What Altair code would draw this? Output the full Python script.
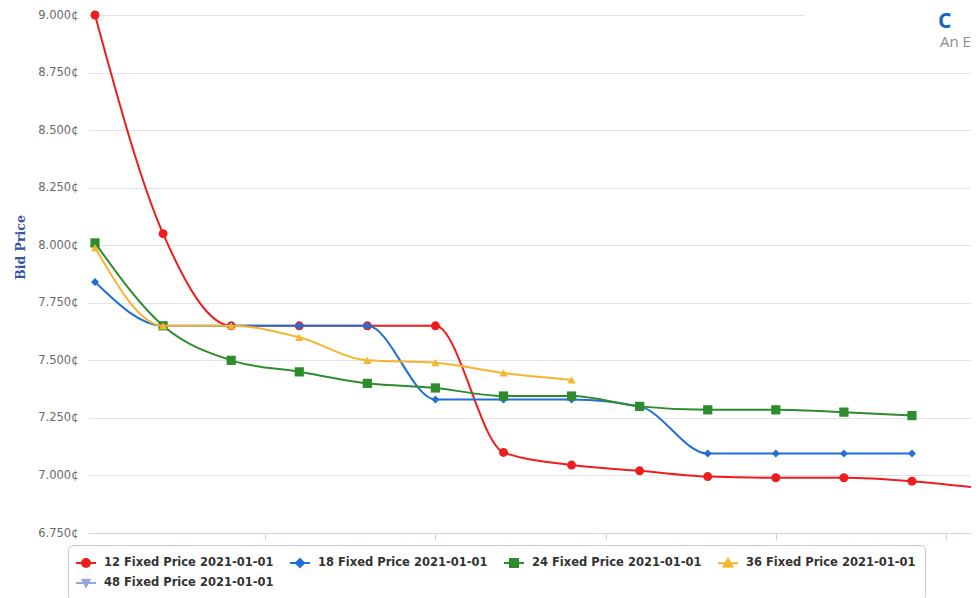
import altair as alt
import pandas as pd

# ---- data ----
series_names = [
    "12 Fixed Price 2021-01-01",
    "18 Fixed Price 2021-01-01",
    "24 Fixed Price 2021-01-01",
    "36 Fixed Price 2021-01-01",
    "48 Fixed Price 2021-01-01",
]
price_12 = [9.00, 8.05, 7.65, 7.65, 7.65, 7.65, 7.10, 7.045, 7.02, 6.995, 6.99, 6.99, 6.975, 6.945]
price_18 = [7.84, 7.65, 7.65, 7.65, 7.65, 7.33, 7.33, 7.33, 7.30, 7.095, 7.095, 7.095, 7.095]
price_24 = [8.01, 7.65, 7.50, 7.45, 7.40, 7.38, 7.345, 7.345, 7.30, 7.285, 7.285, 7.275, 7.26]
price_36 = [7.99, 7.65, 7.65, 7.60, 7.50, 7.49, 7.445, 7.415]
price_48 = []

series_values = [price_12, price_18, price_24, price_36, price_48]
colors = ["#ee1c1c", "#2170d8", "#2e8b2e", "#f5b530", "#93a9e0"]
marker_shapes = ["circle", "diamond", "square", "triangle-up", "triangle-down"]
marker_sizes = [80, 64, 85, 70, 50]
legend_paths = [
    "M-1.25,0H1.25M0.5,0A0.5,0.5,0,1,1,-0.5,0A0.5,0.5,0,1,1,0.5,0Z",
    "M-1.25,0H1.25M0,-0.5L0.5,0L0,0.5L-0.5,0Z",
    "M-1.25,0H1.25M-0.5,-0.5H0.5V0.5H-0.5Z",
    "M-1.25,0H1.25M0,-0.55L0.55,0.45L-0.55,0.45Z",
    "M-1.25,0H1.25M-0.45,-0.4H0.45L0,0.45Z",
]
y_ticks = [6.75, 7.0, 7.25, 7.5, 7.75, 8.0, 8.25, 8.5, 8.75, 9.0]
x_ticks = [2.5, 5.0, 7.5, 10.0, 12.5]
x_domain = [-0.103, 12.867]
logo_texts = ["C", "An E"]

rows = []
for name, vals in zip(series_names, series_values):
    for i, v in enumerate(vals):
        rows.append({"idx": i, "price": v, "series": name})
df = pd.DataFrame(rows)

x_enc = alt.X(
    "idx:Q",
    scale=alt.Scale(domain=x_domain, nice=False, zero=False),
    axis=alt.Axis(
        values=x_ticks, labels=False, grid=False, title=None,
        domainColor="#c6d4ee", tickColor="#c6d4ee", tickSize=7,
    ),
)
y_enc = alt.Y(
    "price:Q",
    scale=alt.Scale(domain=[6.75, 9.0], nice=False, zero=False),
    axis=alt.Axis(
        values=y_ticks, grid=True, gridColor="#dfe3eb", domain=False, ticks=False,
        labelExpr="format(datum.value, '.3f') + '¢'",
        labelFont="DejaVu Sans", labelFontSize=11.5, labelColor="#6a6a6a", labelPadding=10,
        title="Bid Price", titleFont="DejaVu Serif", titleFontWeight="bold",
        titleFontSize=12.5, titleColor="#3654a5", titleX=-68, titleY=232,
        titleAngle=-90, titleAlign="center", titleBaseline="middle",
    ),
)

layers = []
for name, col, shp, sz in zip(series_names, colors, marker_shapes, marker_sizes):
    base = alt.Chart(df).transform_filter(alt.datum.series == name)
    line = base.mark_line(interpolate="monotone", strokeWidth=2, color=col).encode(
        x=x_enc, y=y_enc
    )
    pts = base.mark_point(shape=shp, filled=True, size=sz, opacity=1, color=col).encode(
        x=x_enc, y=y_enc
    )
    layers += [line, pts]

leg = alt.Legend(
    title=None, orient="none", legendX=-20, legendY=530, columns=4, direction="horizontal",
    gridAlign="each",
    labelFont="DejaVu Sans", labelFontSize=11.5, labelFontWeight="bold", labelColor="#333333",
    labelLimit=400, labelOffset=9, columnPadding=12, rowPadding=3, padding=9,
    symbolSize=256, symbolStrokeWidth=2, strokeColor="#c3c7cf", cornerRadius=5,
    fillColor="white",
)
legend_layer = (
    alt.Chart(df)
    .transform_filter("datum.price < 0")
    .mark_point(filled=True, opacity=1)
    .encode(
        x=x_enc, y=y_enc,
        fill=alt.Fill("series:N", scale=alt.Scale(domain=series_names, range=colors), legend=leg),
        stroke=alt.Stroke("series:N", scale=alt.Scale(domain=series_names, range=colors), legend=leg),
        shape=alt.Shape("series:N", scale=alt.Scale(domain=series_names, range=legend_paths), legend=leg),
    )
)

logo_df = pd.DataFrame({"t": logo_texts})
cover = alt.Chart(logo_df).transform_filter(alt.datum.t == logo_texts[0]).mark_rect(
    color="white"
).encode(x=alt.value(717), x2=alt.value(895), y=alt.value(-6), y2=alt.value(6))
logo1 = alt.Chart(logo_df).transform_filter(alt.datum.t == logo_texts[0]).mark_text(
    align="left", baseline="alphabetic", font="Open Sans", fontSize=21,
    fontWeight="bold", color="#1565c0",
).encode(text="t:N", x=alt.value(850), y=alt.value(13))
logo2 = alt.Chart(logo_df).transform_filter(alt.datum.t == logo_texts[1]).mark_text(
    align="left", baseline="alphabetic", font="Open Sans", fontSize=15, color="#8a8a8a",
).encode(text="t:N", x=alt.value(852), y=alt.value(32))

chart = (
    alt.layer(*layers, legend_layer, cover, logo1, logo2)
    .properties(
        width=883, height=518,
        padding={"left": 80, "top": 7, "right": 0, "bottom": 65},
        autosize=alt.AutoSizeParams(type="none"),
    )
    .configure_view(stroke=None)
)

chart.save("out.html", embed_options={"renderer": "svg", "actions": False})
